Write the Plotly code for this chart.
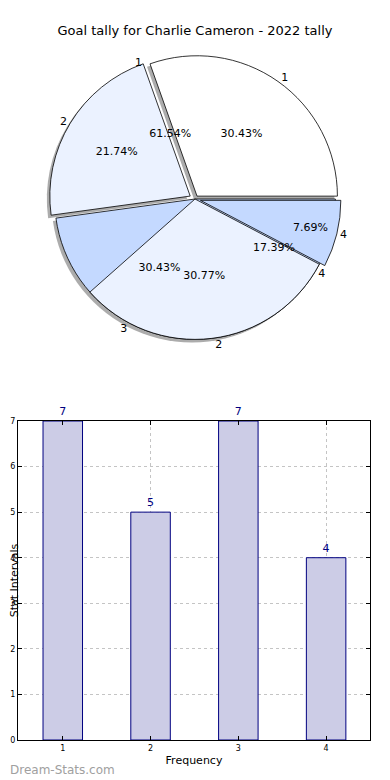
import plotly.graph_objects as go

# ---- data ----
pie_a_labels = ["1", "2", "3", "4"]
pie_a_values = [7, 5, 7, 4]
pie_b_labels = ["1", "2", "4"]
pie_b_values = [8, 4, 1]
bar_x = [1, 2, 3, 4]
bar_y = [7, 5, 7, 4]

title = "Goal tally for Charlie Cameron - 2022 tally"
FONT = "DejaVu Sans"
OFF = 8                     # page body margin
FW, FH = 390 - OFF, 780 - OFF

def fx(px):
    return (px - OFF) / FW

def fy(py):
    return 1 - (py - OFF) / FH

WHITE = "#ffffff"
LIGHT = "#ebf2ff"
MED = "#c4d9ff"
CLEAR = "rgba(0,0,0,0)"

# pie geometry in page pixels
cx, cy, R = 195, 199, 146
def dom(dx=0, dy=0):
    return dict(x=[fx(cx - R + dx), fx(cx + R + dx)],
                y=[fy(cy + R + dy), fy(cy - R + dy)])

# slices drawn clockwise from 3 o'clock in reversed order == counterclockwise order
def rev(a):
    return list(a)[::-1]

pull_a = [0.025, 0.04, 0, 0]
pull_b = [0, 0, 0.04]
common = dict(sort=False, direction="clockwise", rotation=90,
              hoverinfo="skip", showlegend=False)

fig = go.Figure()
# shadow
fig.add_trace(go.Pie(labels=rev(pie_a_labels), values=rev(pie_a_values), pull=rev(pull_a),
                     domain=dom(-3, 3), textinfo="none",
                     marker=dict(colors=["rgba(90,90,90,0.5)"] * 4,
                                 line=dict(width=0)), **common))
# pie A
fig.add_trace(go.Pie(labels=rev(pie_a_labels), values=rev(pie_a_values), pull=rev(pull_a),
                     domain=dom(), textinfo="none",
                     marker=dict(colors=rev([WHITE, LIGHT, MED, MED]),
                                 line=dict(color="black", width=0.8)), **common))
# pie B
fig.add_trace(go.Pie(labels=rev(pie_b_labels), values=rev(pie_b_values), pull=rev(pull_b),
                     domain=dom(), texttemplate="%{percent:.2%}",
                     textposition="inside", insidetextorientation="horizontal",
                     textfont=dict(family=FONT, size=11, color="black"),
                     marker=dict(colors=rev([CLEAR, LIGHT, MED]),
                                 line=dict(color=rev([CLEAR, "black", "black"]), width=0.8)),
                     **common))
# pie A percents on top
fig.add_trace(go.Pie(labels=rev(pie_a_labels), values=rev(pie_a_values), pull=rev(pull_a),
                     domain=dom(), texttemplate="%{percent:.2%}",
                     textposition="inside", insidetextorientation="horizontal",
                     textfont=dict(family=FONT, size=11, color="black"),
                     marker=dict(colors=[CLEAR] * 4, line=dict(width=0)), **common))
# outside labels
fig.add_trace(go.Pie(labels=rev(pie_a_labels), values=rev(pie_a_values), pull=rev(pull_a),
                     domain=dom(), texttemplate="%{label}", textposition="outside",
                     textfont=dict(family=FONT, size=11, color="black"),
                     marker=dict(colors=[CLEAR] * 4, line=dict(width=0)), **common))
fig.add_trace(go.Pie(labels=rev(pie_b_labels), values=rev(pie_b_values), pull=rev(pull_b),
                     domain=dom(), texttemplate="%{label}", textposition="outside",
                     textfont=dict(family=FONT, size=11, color="black"),
                     marker=dict(colors=[CLEAR] * 3, line=dict(width=0)), **common))

# bar chart
fig.add_trace(go.Bar(x=bar_x, y=bar_y, width=0.45, xaxis="x", yaxis="y",
                     marker=dict(color="#ccccE6", line=dict(color="#000080", width=1)),
                     text=bar_y, textposition="outside", cliponaxis=False,
                     textfont=dict(family=FONT, size=11, color="#000080"),
                     hoverinfo="skip", showlegend=False))

axis_common = dict(showline=True, mirror="ticks", linecolor="black", linewidth=1,
                   ticks="inside", ticklen=4, tickcolor="black",
                   showgrid=True, gridcolor="#c4c4c4", griddash="dot", gridwidth=1,
                   zeroline=False, tickfont=dict(family=FONT, size=8, color="black"))

fig.update_layout(
    width=FW, height=FH, paper_bgcolor="white", plot_bgcolor="white",
    margin=dict(l=0, r=0, t=0, b=0),
    font=dict(family=FONT, color="black"),
    title=dict(text=title, x=fx(195), xanchor="center", y=fy(30), yanchor="middle",
               font=dict(family=FONT, size=13, color="black")),
    xaxis=dict(domain=[fx(18), fx(370)], range=[0.49, 4.5], tickvals=bar_x,
               title=dict(text="Frequency", font=dict(family=FONT, size=11), standoff=4),
               anchor="y", automargin=False, **axis_common),
    yaxis=dict(domain=[fy(740), fy(421)], range=[0, 7], tickvals=list(range(8)),
               title=dict(text="Stat Intervals", font=dict(family=FONT, size=11), standoff=0),
               anchor="x", automargin=False, **axis_common),
    annotations=[dict(text="Dream-Stats.com", x=0, xref="paper", xanchor="left",
                      y=fy(770), yref="paper", yanchor="middle", showarrow=False,
                      font=dict(family=FONT, size=12, color="#a0a0a0"))],
)

fig.write_html("out.html")
